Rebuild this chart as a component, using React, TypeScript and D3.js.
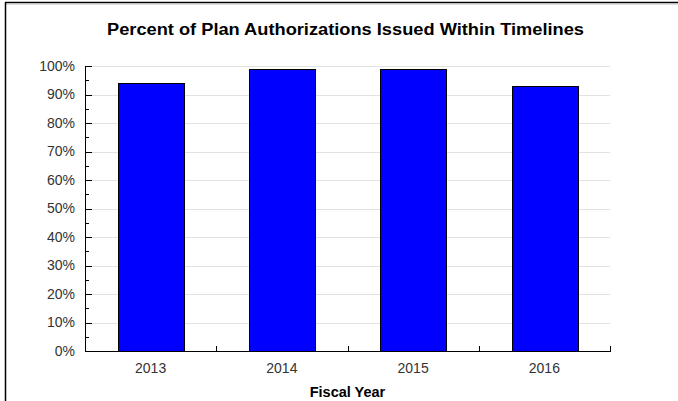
import React from "react";
import * as d3 from "d3";

const categories = ["2013", "2014", "2015", "2016"];
const values = [94, 99, 99, 93];
const yTicks = [0, 10, 20, 30, 40, 50, 60, 70, 80, 90, 100];
const yMinorTicks = [5, 15, 25, 35, 45, 55, 65, 75, 85, 95];
const title = "Percent of Plan Authorizations Issued Within Timelines";
const xTitle = "Fiscal Year";

const W = 678;
const H = 401;
const left = 85;
const right = 610;
const top = 66;
const bottom = 351;

export default function App() {
  const x = d3.scaleBand<string>().domain(categories).range([left, right]).paddingInner(0.5).paddingOuter(0.25);
  const xb = d3.scaleBand<string>().domain(categories).range([left, right]);
  const y = d3.scaleLinear().domain([0, 100]).range([bottom, top]);
  const font = "Arial, 'Liberation Sans', sans-serif";
  return (
    <svg width={W} height={H} style={{ position: "absolute", left: 0, top: 0, background: "#fff" }} fontFamily={font}>
      <rect x={0} y={0} width={W} height={H} fill="#fff" />
      {/* frame */}
      <line x1={5} y1={2.5} x2={W} y2={2.5} stroke="#000" strokeWidth={1.5} />
      <line x1={5} y1={4} x2={W} y2={4} stroke="#bbb" strokeWidth={1} />
      <line x1={5.5} y1={2} x2={5.5} y2={H} stroke="#000" strokeWidth={1.5} />
      <text x={345.5} y={35} textAnchor="middle" fontSize={16} fontWeight="bold" fill="#000" textLength={477} lengthAdjust="spacingAndGlyphs">
        {title}
      </text>
      {/* gridlines */}
      {yTicks.map((t) => (
        <line key={"g" + t} x1={left} x2={right} y1={Math.round(y(t)) + 0.5} y2={Math.round(y(t)) + 0.5} stroke="#e2e2e2" strokeWidth={1} />
      ))}
      {/* bars */}
      {categories.map((c, i) => (
        <rect
          key={c}
          x={Math.round(x(c)!) + 0.5}
          y={Math.round(y(values[i])) + 0.5}
          width={Math.round(x.bandwidth())}
          height={Math.round(bottom - y(values[i]))}
          fill="#0000ff"
          stroke="#000"
          strokeWidth={1}
        />
      ))}
      {/* y axis */}
      <line x1={left + 0.5} x2={left + 0.5} y1={top} y2={bottom + 0.5} stroke="#000" />
      {yTicks.map((t) => (
        <g key={"t" + t}>
          <line x1={left} x2={left + 7} y1={Math.round(y(t)) + 0.5} y2={Math.round(y(t)) + 0.5} stroke="#000" />
          <text x={left - 10} y={y(t)} dy="0.35em" textAnchor="end" fontSize={14} fill="#333">
            {t}%
          </text>
        </g>
      ))}
      {yMinorTicks.map((t) => (
        <line key={"m" + t} x1={left} x2={left + 4} y1={Math.round(y(t)) + 0.5} y2={Math.round(y(t)) + 0.5} stroke="#000" />
      ))}
      {/* x axis */}
      <line x1={left} x2={right + 1} y1={bottom + 0.5} y2={bottom + 0.5} stroke="#000" />
      {categories.map((c) => (
        <g key={"x" + c}>
          <line x1={Math.round(xb(c)! + xb.bandwidth()) + 0.5} x2={Math.round(xb(c)! + xb.bandwidth()) + 0.5} y1={bottom} y2={bottom - 5} stroke="#000" />
          <text x={xb(c)! + xb.bandwidth() / 2} y={373} textAnchor="middle" fontSize={14} fill="#333">
            {c}
          </text>
        </g>
      ))}
      <text x={(left + right) / 2} y={397} textAnchor="middle" fontSize={14.5} fontWeight="bold" fill="#000">
        {xTitle}
      </text>
    </svg>
  );
}
